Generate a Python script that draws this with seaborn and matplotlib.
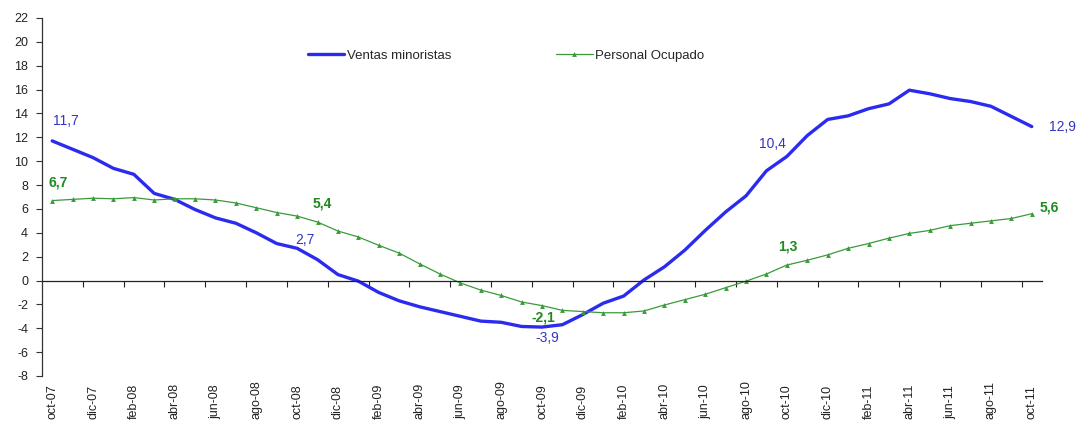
import numpy as np
import pandas as pd
import seaborn as sns
from matplotlib import pyplot as plt

# months oct-07 .. oct-11
MESES = ["ene", "feb", "mar", "abr", "may", "jun", "jul", "ago", "sep", "oct", "nov", "dic"]
meses = []
for k in range(49):
    m = (9 + k) % 12
    y = 7 + (9 + k) // 12
    meses.append(f"{MESES[m]}-{y:02d}")

ventas = [
    11.7, 11.0, 10.3, 9.4, 8.9, 7.3, 6.8, 5.95, 5.25, 4.8, 4.0, 3.1, 2.7,
    1.75, 0.5, -0.05, -1.0, -1.7, -2.2, -2.6, -3.0, -3.4, -3.5, -3.85, -3.9,
    -3.7, -2.85, -1.9, -1.3, 0.05, 1.15, 2.55, 4.2, 5.75, 7.1, 9.2, 10.4,
    12.15, 13.5, 13.8, 14.4, 14.8, 15.95, 15.65, 15.25, 15.0, 14.6, 13.75, 12.9,
]
personal = [
    6.7, 6.8, 6.9, 6.85, 6.95, 6.75, 6.85, 6.85, 6.75, 6.5, 6.1, 5.7, 5.4,
    4.9, 4.15, 3.65, 2.95, 2.3, 1.4, 0.55, -0.2, -0.8, -1.25, -1.8, -2.1,
    -2.5, -2.6, -2.7, -2.7, -2.55, -2.05, -1.6, -1.15, -0.6, -0.05, 0.55, 1.3,
    1.7, 2.15, 2.7, 3.1, 3.55, 3.95, 4.2, 4.6, 4.8, 5.0, 5.2, 5.6,
]

# (index, series, text, offset px)
etiquetas = [
    (0, "v", "11,7", (14, 20)),
    (12, "v", "2,7", (8, 8)),
    (24, "v", "-3,9", (5, -11)),
    (36, "v", "10,4", (-14, 12)),
    (48, "v", "12,9", (31, 0)),
    (0, "p", "6,7", (6, 18)),
    (12, "p", "5,4", (25, 13)),
    (24, "p", "-2,1", (1, -12)),
    (36, "p", "1,3", (1, 19)),
    (48, "p", "5,6", (17, 6)),
]

df = pd.DataFrame({"idx": np.arange(len(meses)), "ventas": ventas, "personal": personal})

BLUE = "#2b2bf0"
BLUE_TXT = "#3535c0"
GREEN = "#3a9a3a"
GREEN_TXT = "#1f8a1f"

sns.set_style("white")
plt.rcParams["font.family"] = ["Liberation Sans", "DejaVu Sans"]
plt.rcParams["axes.unicode_minus"] = False

fig = plt.figure(figsize=(10.77, 4.21), dpi=100)
ax = fig.add_axes([42 / 1077, 1 - 376 / 421, 1000 / 1077, 358 / 421])

sns.lineplot(data=df, x="idx", y="ventas", ax=ax, color=BLUE, linewidth=2.4,
             label="Ventas minoristas", solid_joinstyle="round")
sns.lineplot(data=df, x="idx", y="personal", ax=ax, color=GREEN, linewidth=0.9,
             marker="^", markersize=3.5, markeredgewidth=0, label="Personal Ocupado")

for i, serie, txt, (dx, dy) in etiquetas:
    if serie == "v":
        ax.annotate(txt, (i, ventas[i]), xytext=(dx, dy), textcoords="offset pixels",
                    ha="center", va="center", fontsize=10, color=BLUE_TXT)
    else:
        ax.annotate(txt, (i, personal[i]), xytext=(dx, dy), textcoords="offset pixels",
                    ha="center", va="center", fontsize=10, color=GREEN_TXT,
                    fontweight="bold")

ax.set_xlim(-0.5, len(meses) - 0.5)
ax.set_ylim(-8, 22)
ax.set_yticks(np.arange(-8, 23, 2))
ax.tick_params(axis="y", length=4, width=0.8, color="#333333", labelsize=9,
               labelcolor="#222222", left=True, pad=6)

# zero line with tick marks pointing down
ax.spines["top"].set_position(("data", 0))
ax.spines["top"].set_color("#222222")
ax.spines["top"].set_linewidth(0.9)
ax.set_xticks(np.arange(1.5, len(meses), 2), minor=True)
ax.tick_params(axis="x", which="minor", top=True, bottom=False, direction="in",
               length=4, width=0.8, color="#222222")

ax.spines["left"].set_color("#333333")
ax.spines["left"].set_linewidth(0.9)
ax.spines["right"].set_visible(False)
ax.spines["bottom"].set_visible(False)

ax.set_xlabel("")
ax.set_ylabel("")

ax.set_xticks(np.arange(0, len(meses), 2))
ax.set_xticklabels(meses[::2])
ax.tick_params(axis="x", which="major", length=0, pad=31, labelsize=9,
               labelcolor="#222222", labelrotation=90)
for lab in ax.get_xticklabels():
    lab.set_family(["Liberation Sans Narrow", "Liberation Sans", "DejaVu Sans"])
    lab.set_rotation(90)
    lab.set_verticalalignment("bottom")

ax.legend(loc="center", bbox_to_anchor=(0.464, 0.894), ncol=2, frameon=False,
          fontsize=9.5, handlelength=2.8, columnspacing=7.9, handletextpad=0.2)

fig.savefig("out.png", dpi=100)
